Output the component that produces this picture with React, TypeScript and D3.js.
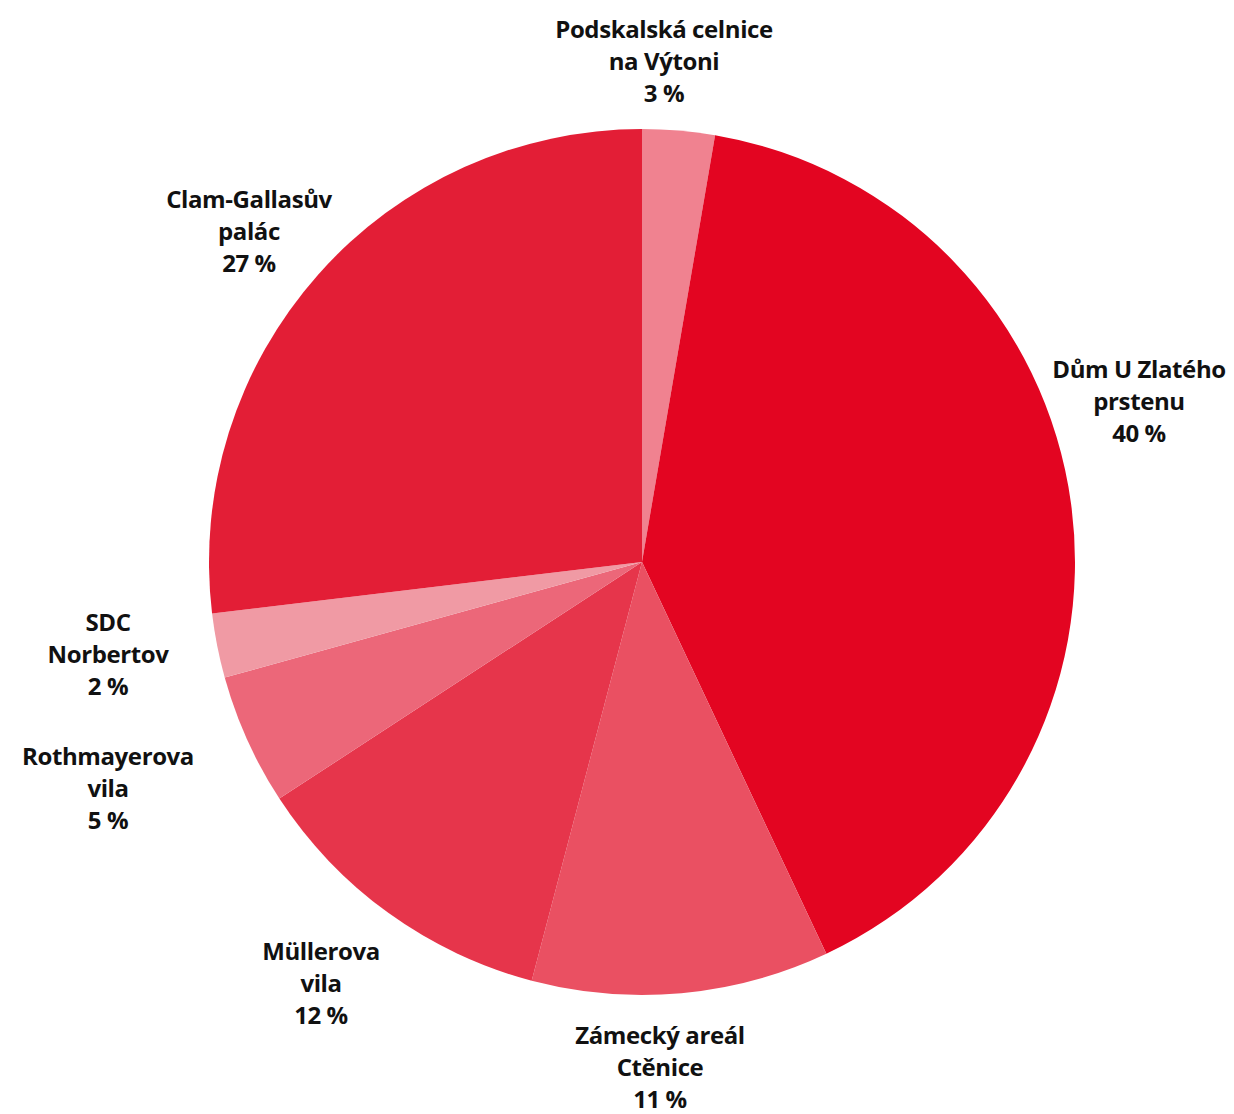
import React from "react";
import * as d3 from "d3";

const categories = [
  ["Podskalská celnice", "na Výtoni"],
  ["Dům U Zlatého", "prstenu"],
  ["Zámecký areál", "Ctěnice"],
  ["Müllerova", "vila"],
  ["Rothmayerova", "vila"],
  ["SDC", "Norbertov"],
  ["Clam-Gallasův", "palác"],
];
const values = [2.7, 40.3, 11.1, 11.7, 4.9, 2.4, 26.9];
const percentLabels = ["3 %", "40 %", "11 %", "12 %", "5 %", "2 %", "27 %"];
const colors = ["#f08290", "#e30521", "#ea5062", "#e6354b", "#ec6779", "#f09aa4", "#e31e36"];

// layout: label centre positions (first-line centre)
const labelLayout: [number, number][] = [
  [664, 29],
  [1139, 369],
  [660, 1035],
  [321, 951],
  [108, 756],
  [108, 622],
  [249, 199],
];

const W = 1234;
const H = 1114;
const cx = 642;
const cy = 562;
const R = 433;

export default function App() {
  const pie = d3.pie<number>().sort(null).value((d) => d)(values);
  const arc = d3.arc<d3.PieArcDatum<number>>().innerRadius(0).outerRadius(R);
  return (
    <svg width={W} height={H} style={{ position: "absolute", left: 0, top: 0 }}>
      <g transform={`translate(${cx},${cy})`}>
        {pie.map((p, i) => (
          <path key={i} d={arc(p) || ""} fill={colors[i]} />
        ))}
      </g>
      {categories.map((lines, i) => {
        const [x, y] = labelLayout[i];
        const all = [...lines, percentLabels[i]];
        return (
          <text
            key={i}
            x={x}
            textAnchor="middle"
            fontFamily="'Open Sans', sans-serif"
            fontWeight={700}
            fontSize={24}
            letterSpacing={-0.4}
            fill="#111"
          >
            {all.map((t, j) => (
              <tspan key={j} x={x} y={y + j * 32} dy="0.36em">
                {t}
              </tspan>
            ))}
          </text>
        );
      })}
    </svg>
  );
}
